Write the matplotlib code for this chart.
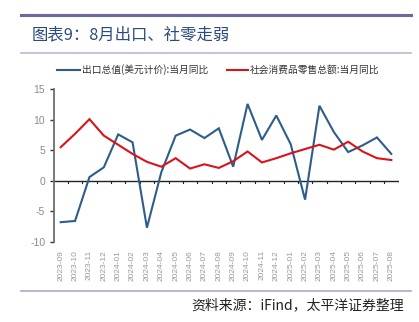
import matplotlib
matplotlib.use("Agg")
import matplotlib.pyplot as plt
from matplotlib.lines import Line2D

plt.rcParams['font.family'] = ['Noto Sans CJK SC', 'DejaVu Sans']

months = ["2023-09", "2023-10", "2023-11", "2023-12", "2024-01", "2024-02",
          "2024-03", "2024-04", "2024-05", "2024-06", "2024-07", "2024-08",
          "2024-09", "2024-10", "2024-11", "2024-12", "2025-01", "2025-02",
          "2025-03", "2025-04", "2025-05", "2025-06", "2025-07", "2025-08"]
exports_yoy = [-6.8, -6.6, 0.6, 2.2, 7.6, 6.3, -7.7, 1.4, 7.4, 8.4, 7.0, 8.6,
               2.3, 12.6, 6.7, 10.7, 6.0, -3.1, 12.3, 8.0, 4.7, 5.8, 7.1, 4.4]
retail_yoy = [5.5, 7.7, 10.1, 7.4, 5.9, 4.4, 3.1, 2.3, 3.7, 2.0, 2.7, 2.1,
              3.2, 4.8, 3.0, 3.7, 4.5, 5.2, 5.9, 5.1, 6.4, 4.8, 3.7, 3.4]
yticks = [-10, -5, 0, 5, 10, 15]

title = "图表9：8月出口、社零走弱"
legend_labels = ["出口总值(美元计价):当月同比", "社会消费品零售总额:当月同比"]
source = "资料来源：iFind，太平洋证券整理"

BLUE = "#2E5D8C"
RED = "#D7141A"

W, H = 419, 322
fig = plt.figure(figsize=(W / 100, H / 100), dpi=100)

ax = fig.add_axes([53.5 / W, 1 - 241.7 / H, (398.5 - 53.5) / W, (241.7 - 89.3) / H])
x = list(range(len(months)))
ax.plot(x, exports_yoy, color=BLUE, lw=1.5, solid_joinstyle='miter')
ax.plot(x, retail_yoy, color=RED, lw=1.5, solid_joinstyle='miter')

ax.set_xlim(-0.5, len(months) - 0.5)
ax.set_ylim(-10, 15)
ax.set_yticks(yticks)
ax.set_yticklabels([str(v) for v in yticks], fontsize=7.5, color="#8a8a8a",
                   family=['Liberation Sans', 'DejaVu Sans'])
ax.tick_params(axis='y', direction='out', length=3, width=1, color="#333333", pad=3)

for s in ['top', 'right', 'bottom']:
    ax.spines[s].set_visible(False)
ax.spines['left'].set_color("#6e6e6e")
ax.spines['left'].set_linewidth(1.3)

# zero line with ticks between categories
ax.axhline(0, color="#222222", lw=1.0, zorder=1)
for i in range(len(months)):
    ax.plot([i + 0.5, i + 0.5], [0, -0.45], color="#222222", lw=0.8, zorder=1)

ax.set_xticks(x)
ax.set_xticklabels(months, rotation=90, fontsize=6, color="#999999",
                   family=['Liberation Sans', 'DejaVu Sans'])
ax.tick_params(axis='x', length=0, pad=6)

# header lines and title
fig.add_artist(Line2D([21 / W, 411 / W], [1 - 15 / H, 1 - 15 / H], color="#6A6A9C", lw=2.2))
fig.add_artist(Line2D([21 / W, 411 / W], [1 - 52.5 / H, 1 - 52.5 / H], color="#B9B9D6", lw=1.2))
fig.add_artist(Line2D([21 / W, 411 / W], [1 - 291 / H, 1 - 291 / H], color="#A9A9C8", lw=1.2))
fig.text(32 / W, 1 - 35 / H, title, fontsize=11.8, color="#2B4A7E", va='center', ha='left')

# legend
ly = 1 - 70 / H
fig.add_artist(Line2D([57 / W, 80 / W], [ly, ly], color=BLUE, lw=1.5))
fig.text(82 / W, ly, legend_labels[0], fontsize=7, color="#333333", va='center', ha='left')
fig.add_artist(Line2D([227 / W, 248 / W], [ly, ly], color=RED, lw=1.5))
fig.text(250 / W, ly, legend_labels[1], fontsize=7, color="#333333", va='center', ha='left')

fig.text(404 / W, 1 - 305 / H, source, fontsize=10, color="#222222", va='center',
         ha='right', style='italic')

fig.savefig("out.png", dpi=100)
